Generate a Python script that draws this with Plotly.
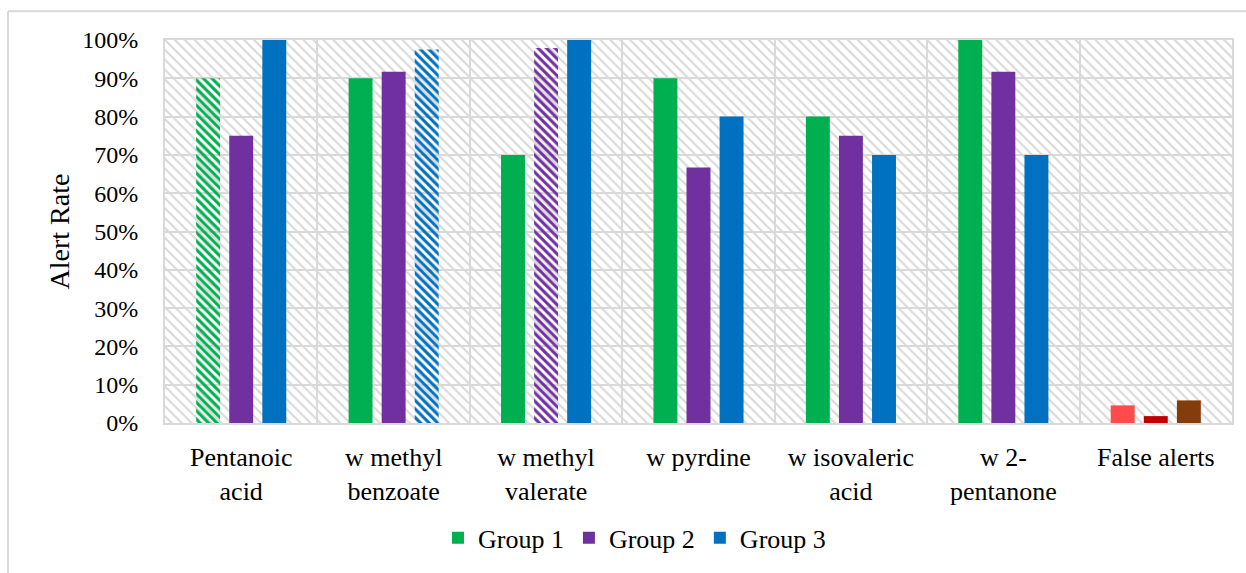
import plotly.graph_objects as go

# Categories (x-axis tick labels)
categories = [
    "Pentanoic<br>acid",
    "w methyl<br>benzoate",
    "w methyl<br>valerate",
    "w pyrdine",
    "w isovaleric<br>acid",
    "w 2-<br>pentanone",
    "False alerts",
]

# Alert rates (%) per group
group1 = [90, 90, 70, 90, 80, 100, 4.6]
group2 = [75, 91.7, 97.9, 66.7, 75, 91.7, 1.8]
group3 = [100, 97.5, 100, 80, 70, 70, 5.9]

series_names = ["Group 1", "Group 2", "Group 3"]
series_values = [group1, group2, group3]

# Styling
base_colors = ["#00b050", "#7030a0", "#0070c0"]
false_colors = ["#ff4b4b", "#c00000", "#843c0c"]
# which bar in each series is drawn hatched
hatched_index = [0, 2, 1]

GRID = "#d9d9d9"
FONT = "Liberation Serif, Times New Roman, serif"
BAR_W = 0.157
STEP = 0.217

M_L, M_R, M_T, M_B = 165, 14, 40, 146
PW = 1246 - M_L - M_R
PH = 573 - M_T - M_B

fig = go.Figure()

# Light diagonal hatch filling the plot area
fig.add_trace(go.Bar(
    x=categories,
    y=[100] * len(categories),
    width=1.0,
    marker=dict(
        color="rgba(0,0,0,0)",
        line=dict(width=0),
        pattern=dict(shape="\\", fgcolor=GRID, bgcolor="rgba(0,0,0,0)",
                     fillmode="replace", size=7, solidity=0.3),
    ),
    hoverinfo="skip",
    showlegend=False,
))

for i, (name, vals) in enumerate(zip(series_names, series_values)):
    n = len(vals)
    colors = [base_colors[i]] * (n - 1) + [false_colors[i]]
    shapes = [""] * n
    shapes[hatched_index[i]] = "\\"
    center = (i - 1) * STEP
    fig.add_trace(go.Bar(
        x=categories,
        y=vals,
        name=name,
        width=BAR_W,
        offset=center - BAR_W / 2,
        marker=dict(
            color=colors,
            line=dict(width=0),
            pattern=dict(shape=shapes, fgcolor=colors, bgcolor="white",
                         fillmode="replace", size=6, solidity=0.5),
        ),
        showlegend=False,
    ))

# Legend entries
for name, c in zip(series_names, base_colors):
    fig.add_trace(go.Bar(x=[None], y=[None], name=name,
                         marker=dict(color=c, line=dict(width=0)),
                         showlegend=True))

fig.update_layout(
    width=1246,
    height=573,
    barmode="overlay",
    paper_bgcolor="white",
    plot_bgcolor="white",
    margin=dict(l=M_L, r=M_R, t=M_T, b=M_B),
    font=dict(family=FONT, size=24, color="black"),
    legend=dict(
        orientation="h",
        x=0.44, xanchor="center",
        y=(-116) / PH, yanchor="middle",
        font=dict(family=FONT, size=26, color="black"),
        itemclick=False,
        traceorder="normal",
    ),
    xaxis=dict(
        type="category",
        automargin=False,
        showgrid=True,
        gridcolor=GRID,
        gridwidth=2,
        tickson="boundaries",
        ticks="",
        showline=True,
        linecolor=GRID,
        linewidth=2,
        mirror=True,
        ticklabelstandoff=10,
        tickfont=dict(family=FONT, size=26),
    ),
    yaxis=dict(
        range=[0, 100],
        automargin=False,
        dtick=10,
        ticksuffix="%",
        showgrid=True,
        gridcolor=GRID,
        gridwidth=2,
        zeroline=False,
        ticks="",
        showline=True,
        linecolor=GRID,
        linewidth=2,
        mirror=True,
        ticklabelstandoff=20,
        tickfont=dict(family=FONT, size=24),
        title=dict(text="Alert Rate", font=dict(family=FONT, size=28), standoff=4),
    ),
    shapes=[
        # outer chart frame (top and left edges)
        dict(type="line", xref="paper", yref="paper",
             x0=(8 - M_L) / PW, x1=(1250 - M_L) / PW,
             y0=(573 - M_B - 11) / PH, y1=(573 - M_B - 11) / PH,
             line=dict(color=GRID, width=2), layer="below"),
        dict(type="line", xref="paper", yref="paper",
             x0=(8 - M_L) / PW, x1=(8 - M_L) / PW,
             y0=(573 - M_B - 11) / PH, y1=(573 - M_B - 580) / PH,
             line=dict(color=GRID, width=2), layer="below"),
    ],
)

fig.write_html("out.html")
